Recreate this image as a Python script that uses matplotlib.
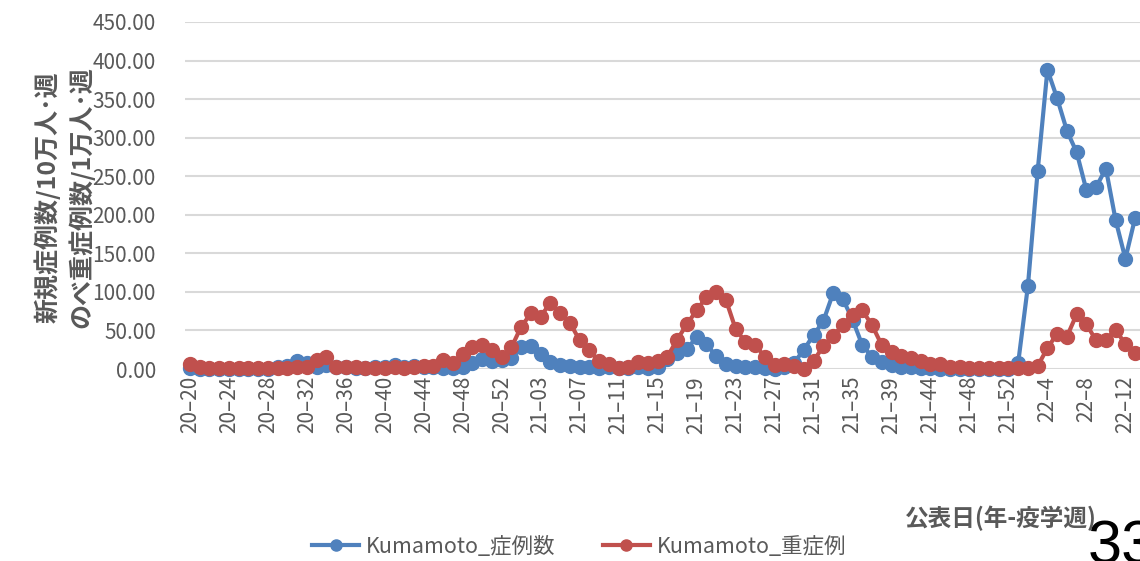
import matplotlib
matplotlib.use("Agg")
import matplotlib.pyplot as plt
import numpy as np

plt.rcParams["font.family"] = ["Noto Sans CJK JP", "DejaVu Sans"]

# weekly values, 2020-W20 .. 2022-W13
cases = [
    1, 0.5, 0.3, 0.2, 0.3, 0.3, 0.5, 0.3, 0.5, 2, 4, 10, 8, 3, 5, 2,
    2, 1.5, 1, 2, 3, 5, 3, 4, 3, 2, 1, 1, 3, 8, 13, 11,
    12, 14, 29, 30, 19, 9, 5, 4, 3, 3, 1, 2, 1, 1, 3, 1,
    3, 13, 21, 26, 41, 32, 17, 7, 4, 3, 3, 1, 0.5, 2, 8, 25,
    44, 62, 98, 91, 64, 31, 16, 9, 5, 3, 2, 1.5, 1, 0.5, 0.3, 0.3,
    0.3, 0.3, 0.3, 0.3, 0.3, 8, 108, 257, 388, 351, 309, 281, 232, 236, 260, 193,
    143, 196,
]
severe = [
    6, 3, 1, 1, 1, 1, 1, 1, 1, 1, 1.5, 2, 3, 12, 16, 3,
    2, 2, 1, 1, 1.5, 2, 1, 3, 4, 3.5, 12, 8, 20, 29, 31, 25,
    15, 28, 55, 72, 68, 86, 72, 60, 37, 24, 10, 7, 1, 3, 9, 8,
    11, 16, 38, 58, 76, 93, 100, 90, 52, 35, 31, 16, 5, 6, 4, 0.5,
    10, 30, 43, 57, 70, 76, 57, 31, 22, 17, 14, 10, 6, 6, 3, 2,
    1, 1, 1, 1, 1, 1, 1, 4, 27, 46, 42, 71, 58, 37, 38, 51,
    32, 21,
]
week_ticks = [
    "20–20", "20–24", "20–28", "20–32", "20–36", "20–40", "20–44", "20–48",
    "20–52", "21–03", "21–07", "21–11", "21–15", "21–19", "21–23", "21–27",
    "21–31", "21–35", "21–39", "21–44", "21–48", "21–52", "22–4", "22–8",
    "22–12",
]
y_ticks = [0, 50, 100, 150, 200, 250, 300, 350, 400, 450]

BLUE = "#4F81BD"
RED = "#C0504D"
GREY = "#595959"

fig = plt.figure(figsize=(11.4, 5.61), dpi=100)
ax = fig.add_axes([185 / 1140, 1 - 369 / 561, 1 - 185 / 1140, (369 - 22) / 561])

x = np.arange(len(cases))
ax.plot(x, cases, color=BLUE, lw=3, marker="o", ms=10, clip_on=False,
        label="Kumamoto_症例数", zorder=3)
ax.plot(x, severe, color=RED, lw=3, marker="o", ms=10, clip_on=False,
        label="Kumamoto_重症例", zorder=4)

ax.set_xlim(-0.5, 97.5)
ax.set_ylim(0, 450)
ax.set_yticks(y_ticks)
ax.set_yticklabels([f"{v:.2f}" for v in y_ticks], fontsize=15, color=GREY)
ax.set_xticks(np.arange(0, len(cases), 4)[:len(week_ticks)])
ax.set_xticklabels(week_ticks, rotation=90, fontsize=15, color=GREY)
ax.tick_params(axis="y", length=0, pad=21)
ax.tick_params(axis="x", length=0, pad=5)

ax.yaxis.grid(True, color="#D9D9D9", lw=1.5)
ax.set_axisbelow(True)
for s in ax.spines.values():
    s.set_visible(False)

fig.text(47 / 1140, 1 - 197 / 561, "新規症例数/10万人･週", rotation=90,
         ha="center", va="center", fontsize=18, fontweight="bold", color=GREY)
fig.text(81 / 1140, 1 - 197 / 561, "のべ重症例数/1万人･週", rotation=90,
         ha="center", va="center", fontsize=18, fontweight="bold", color=GREY)

fig.text(905 / 1140, 1 - 518 / 561, "公表日(年-疫学週)", ha="left", va="center",
         fontsize=17, fontweight="bold", color=GREY)
fig.text(1088 / 1140, 1 - 519 / 561, "33", ha="left", va="top",
         fontsize=44, color="black", family=["Liberation Sans", "DejaVu Sans"])

fig.legend(loc="center", bbox_to_anchor=(579 / 1140, 1 - 547 / 561), ncol=2,
           frameon=False, fontsize=15.5, handlelength=2.2, columnspacing=2.2,
           labelcolor=GREY, handletextpad=0.3, markerscale=0.8)

fig.savefig("out.png", dpi=100)
